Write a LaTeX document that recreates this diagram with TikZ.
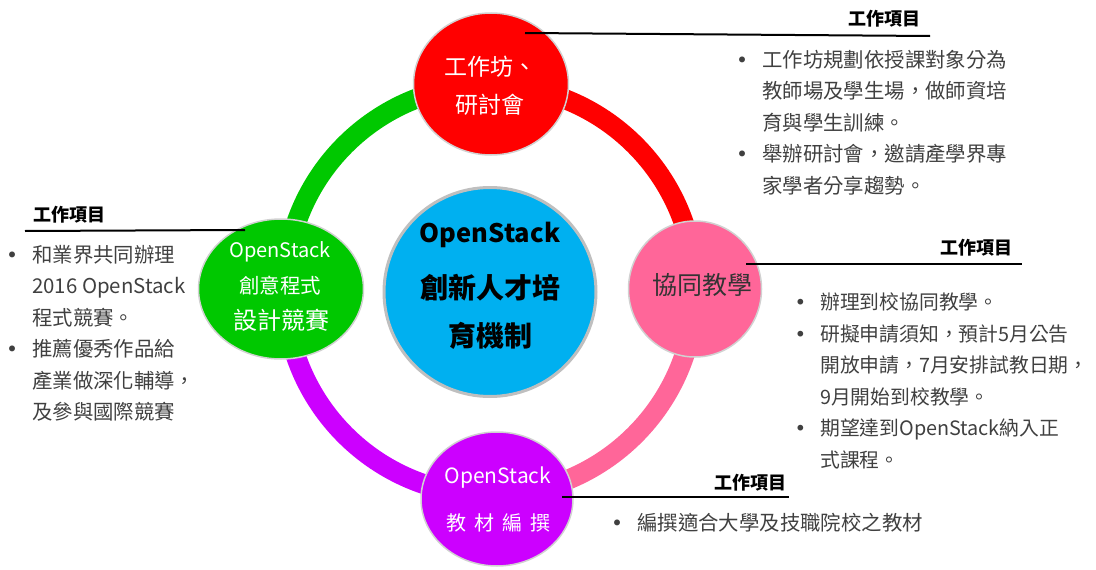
\documentclass[tikz,border=0pt]{standalone}
\usepackage{fontspec}
\setmainfont{Noto Sans CJK TC}
\newfontfamily\dotfont{DejaVu Sans}
\usetikzlibrary{shapes.geometric}

\definecolor{wsred}{RGB}{255,0,0}
\definecolor{cooppink}{RGB}{255,102,153}
\definecolor{matpurple}{RGB}{204,0,255}
\definecolor{contgreen}{RGB}{0,200,0}
\definecolor{coreblue}{RGB}{0,176,240}
\definecolor{itemgray}{RGB}{64,64,64}

\tikzset{
  ring/.style={line width=20pt},
  bubble/.style={shape=ellipse,draw=black!18,line width=1.5pt,inner sep=0pt},
  lead/.style={draw=black,line width=2pt},
  head/.style={font=\fontsize{18}{18}\selectfont\bfseries,inner sep=0pt},
  items/.style={font=\fontsize{20.4}{31.5}\selectfont,text=itemgray,align=left,inner sep=0pt,anchor=north west},
  intext/.style={text=white,inner sep=0pt}
}
\newcommand{\bul}{\llap{{\dotfont •}\hspace{14pt}}}

\begin{document}
\begin{tikzpicture}[x=1pt,y=-1pt]
\useasboundingbox (0,0) rectangle (1096,570);

% ring
\coordinate (hub) at (490,290);
\draw[ring,draw=wsred] ([shift={(hub)}]-90:205) arc[start angle=-90,end angle=0,radius=205];
\draw[ring,draw=cooppink] ([shift={(hub)}]0:205) arc[start angle=0,end angle=90,radius=205];
\draw[ring,draw=matpurple] ([shift={(hub)}]90:205) arc[start angle=90,end angle=180,radius=205];
\draw[ring,draw=contgreen] ([shift={(hub)}]180:205) arc[start angle=180,end angle=270,radius=205];

% bubbles
\node[bubble,fill=coreblue,draw=black!25,line width=3pt,minimum width=212,minimum height=209](core) at (490,292) {};
\node[bubble,fill=wsred,minimum width=155,minimum height=142](ws) at (491,84) {};
\node[bubble,fill=cooppink,minimum width=133,minimum height=136](coop) at (695,289) {};
\node[bubble,fill=matpurple,minimum width=152,minimum height=134](mat) at (497,499) {};
\node[bubble,fill=contgreen,minimum width=165,minimum height=140](cont) at (281,289) {};

% bubble texts
\node[inner sep=0pt,font=\fontsize{25.5}{25.5}\selectfont\bfseries](core1) at (490,235) {OpenStack};
\node[inner sep=0pt,font=\fontsize{28}{28}\selectfont\bfseries](core2) at (490,288) {創新人才培};
\node[inner sep=0pt,font=\fontsize{28}{28}\selectfont\bfseries](core3) at (490,336) {育機制};
\node[intext,align=center,font=\fontsize{23}{38}\selectfont](wsname) at (490,86) {工作坊、\\研討會};
\node[inner sep=0pt,text=black!80,font=\fontsize{25}{25}\selectfont](coopname) at (702,285) {協同教學};
\node[intext,font=\fontsize{21}{21}\selectfont](mat1) at (498,478) {OpenStack};
\node[intext,font=\fontsize{20}{20}\selectfont](mat2) at (498,523) {教\hspace{8pt}材\hspace{8pt}編\hspace{8pt}撰};
\node[intext,font=\fontsize{20}{20}\selectfont](cont1) at (280,252) {OpenStack};
\node[intext,font=\fontsize{20.5}{20.5}\selectfont](cont2) at (280,286) {創意程式};
\node[intext,font=\fontsize{24}{24}\selectfont](cont3) at (281,320) {設計競賽};

% leaders
\coordinate (wsa) at (525,33);
\coordinate (wsb) at (930,36);
\coordinate (coopa) at (746,264);
\coordinate (coopb) at (1022,264);
\coordinate (mata) at (562,497);
\coordinate (matb) at (789,497);
\coordinate (conta) at (245,230);
\coordinate (contb) at (25,231);
\path[-] (wsa) edge[lead] (wsb);
\path[-] (coopa) edge[lead] (coopb);
\path[-] (mata) edge[lead] (matb);
\path[-] (conta) edge[lead] (contb);

\node[head](wshead) at (884,19) {工作項目};
\node[head](coophead) at (976,248) {工作項目};
\node[head](mathead) at (750,483) {工作項目};
\node[head](conthead) at (70,215) {工作項目};

% work items
\node[items](wsitems) at (762,50) {\bul 工作坊規劃依授課對象分為\\
教師場及學生場，做師資培\\
育與學生訓練。\\
\bul 舉辦研討會，邀請產學界專\\
家學者分享趨勢。};
\node[items,font=\fontsize{19.8}{31.5}\selectfont](coopitems) at (820,293) {\bul 辦理到校協同教學。\\
\bul 研擬申請須知，預計5月公告\\
開放申請，7月安排試教日期，\\
9月開始到校教學。\\
\bul 期望達到OpenStack納入正\\
式課程。};
\node[items](matitems) at (637,513) {\bul 編撰適合大學及技職院校之教材};
\node[items](contitems) at (32,245) {\bul 和業界共同辦理\\
2016 OpenStack\\
程式競賽。\\
\bul 推薦優秀作品給\\
產業做深化輔導，\\
及參與國際競賽};
\end{tikzpicture}
\end{document}
